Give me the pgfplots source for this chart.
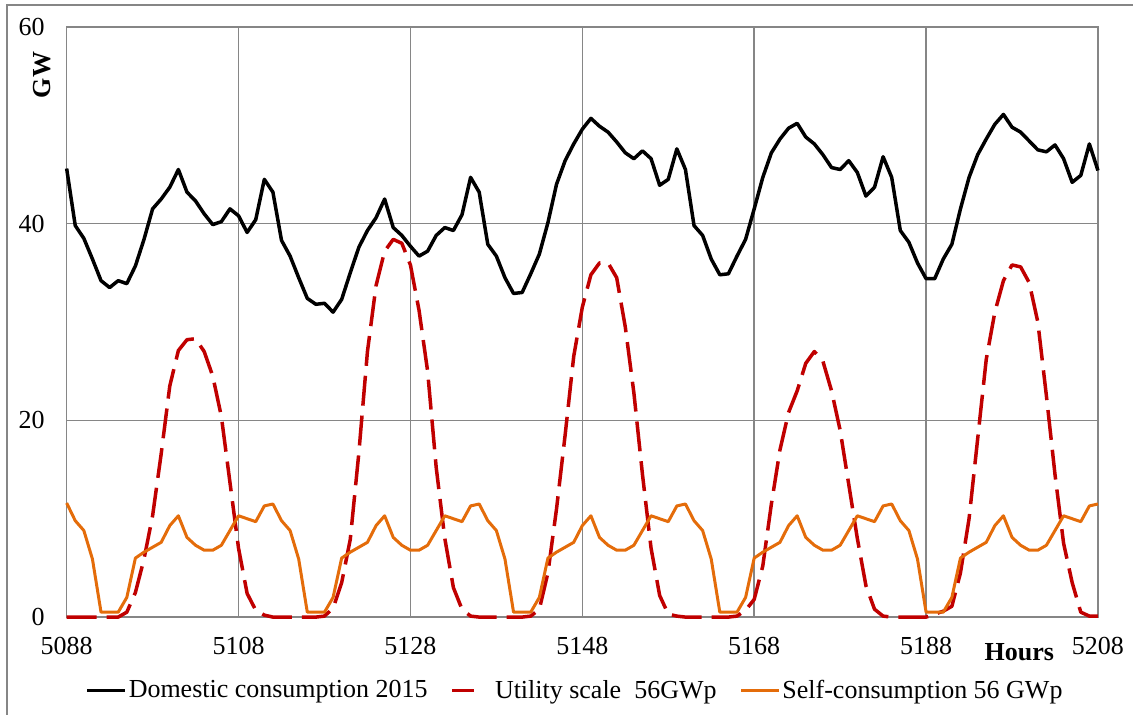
\documentclass[border=0pt]{standalone}
\usepackage{fontspec}
\setmainfont{Liberation Serif}
\usepackage{pgfplots}
\usepackage{pgfplotstable}
\pgfplotsset{compat=1.18}

\definecolor{gridgray}{RGB}{134,134,134}
\definecolor{utilred}{RGB}{192,0,0}
\definecolor{selforange}{RGB}{228,108,10}

\pgfplotsset{
    linelegend/.style={legend image code/.code={\draw[##1] (0pt,0pt) -- (19pt,0pt);}},
    dashlegend/.style={legend image code/.code={\draw[##1, solid] (4pt,0pt) -- (15pt,0pt);}},
}

% hourly values, GW
\pgfplotstableread{
h    dom  util self
5088 45.6 0    11.6
5089 39.8 0    9.8
5090 38.5 0    8.8
5091 36.4 0    5.9
5092 34.2 0    0.5
5093 33.5 0    0.5
5094 34.2 0    0.5
5095 33.9 0.5  2.0
5096 35.7 2.5  6.0
5097 38.4 5.9  6.6
5098 41.5 10.3 7.1
5099 42.5 16.6 7.6
5100 43.7 23.5 9.3
5101 45.5 27.1 10.3
5102 43.2 28.2 8.1
5103 42.3 28.3 7.3
5104 41.0 27.0 6.8
5105 39.9 24.5 6.8
5106 40.2 20.4 7.3
5107 41.5 13.7 8.8
5108 40.8 7.0  10.3
5109 39.1 2.4  10.0
5110 40.4 0.7  9.7
5111 44.5 0.2  11.3
5112 43.2 0    11.5
5113 38.3 0    9.8
5114 36.7 0    8.8
5115 34.5 0    5.9
5116 32.4 0    0.5
5117 31.8 0    0.5
5118 31.9 0.1  0.5
5119 31.0 0.9  2.0
5120 32.3 3.5  6.0
5121 35.0 7.9  6.6
5122 37.6 16.7 7.1
5123 39.3 27.0 7.6
5124 40.6 33.7 9.3
5125 42.5 37.2 10.3
5126 39.6 38.4 8.1
5127 38.8 38.0 7.3
5128 37.7 35.8 6.8
5129 36.7 31.2 6.8
5130 37.2 25.0 7.3
5131 38.8 15.2 8.8
5132 39.6 8.0  10.3
5133 39.3 3.0  10.0
5134 40.9 0.8  9.7
5135 44.7 0.1  11.3
5136 43.2 0    11.5
5137 37.9 0    9.8
5138 36.7 0    8.8
5139 34.5 0    5.9
5140 32.9 0    0.5
5141 33.0 0    0.5
5142 34.9 0.1  0.5
5143 36.9 0.8  2.0
5144 40.1 4.5  6.0
5145 44.0 11.0 6.6
5146 46.4 18.5 7.1
5147 48.1 26.5 7.6
5148 49.6 31.5 9.3
5149 50.7 34.8 10.3
5150 49.9 36.0 8.1
5151 49.3 36.0 7.3
5152 48.3 34.5 6.8
5153 47.2 29.5 6.8
5154 46.6 22.8 7.3
5155 47.4 14.5 8.8
5156 46.6 7.0  10.3
5157 43.9 2.2  10.0
5158 44.5 0.3  9.7
5159 47.6 0.1  11.3
5160 45.5 0    11.5
5161 39.8 0    9.8
5162 38.8 0    8.8
5163 36.4 0    5.9
5164 34.8 0    0.5
5165 34.9 0    0.5
5166 36.7 0.1  0.5
5167 38.4 0.7  2.0
5168 41.5 1.8  6.0
5169 44.7 5.2  6.6
5170 47.2 11.5 7.1
5171 48.6 17.0 7.6
5172 49.7 20.8 9.3
5173 50.2 23.0 10.3
5174 48.8 25.8 8.1
5175 48.1 27.0 7.3
5176 47.0 26.0 6.8
5177 45.7 23.0 6.8
5178 45.5 19.0 7.3
5179 46.4 13.5 8.8
5180 45.2 8.0  10.3
5181 42.8 3.2  10.0
5182 43.7 0.8  9.7
5183 46.8 0.1  11.3
5184 44.7 0    11.5
5185 39.3 0    9.8
5186 38.1 0    8.8
5187 36.0 0    5.9
5188 34.4 0    0.5
5189 34.4 0.3  0.5
5190 36.4 0.6  0.5
5191 37.9 1.1  2.0
5192 41.5 4.5  6.0
5193 44.7 10.0 6.6
5194 47.0 18.1 7.1
5195 48.6 26.2 7.6
5196 50.1 31.0 9.3
5197 51.1 34.2 10.3
5198 49.8 35.8 8.1
5199 49.3 35.6 7.3
5200 48.4 34.0 6.8
5201 47.5 30.0 6.8
5202 47.3 22.5 7.3
5203 48.0 14.5 8.8
5204 46.6 7.5  10.3
5205 44.2 3.5  10.0
5206 44.9 0.5  9.7
5207 48.1 0.1  11.3
5208 45.4 0.1  11.5
}\loadtable

\begin{document}
\begin{tikzpicture}
\begin{axis}[
    scale only axis,
    width=516pt, height=295.3pt,
    xmin=5088, xmax=5208, ymin=0, ymax=60,
    xtick={5088,5108,...,5208},
    ytick={0,20,40,60},
    grid=major,
    major grid style={gridgray, line width=0.75pt},
    axis line style={gridgray, line width=0.75pt},
    tick style={draw=none},
    font=\fontsize{13}{15.6}\selectfont,
    /pgf/number format/assume math mode=true,
    /pgf/number format/1000 sep={},
    xticklabel style={yshift=-6.4pt},
    yticklabel style={xshift=-7.5pt},
    xlabel={Hours},
    xlabel style={at={(axis description cs:0.9237,-0.0737)}, anchor=base,
        font=\fontsize{13}{15.6}\selectfont\bfseries},
    ylabel={GW},
    ylabel style={at={(axis description cs:-0.0242,0.9186)}, anchor=center,
        font=\fontsize{13}{15.6}\selectfont\bfseries},
    clip=false,
    legend columns=3,
    legend style={at={(axis description cs:0.0177,-0.1245)}, anchor=west,
        draw=none, fill=none, inner sep=0pt, column sep=0pt,
        nodes={inner sep=1pt},
        /tikz/every even column/.append style={column sep=10.5pt}},
    linelegend,
]
\addplot[black, line width=1.75pt, line join=round] table[x=h, y=dom] {\loadtable};
\addlegendentry{Domestic consumption 2015}
\addplot[utilred, line width=1.75pt, line join=round, dash pattern=on 15pt off 5pt, dashlegend]
    table[x=h, y=util] {\loadtable};
\addlegendentry{\hspace{8.5pt}Utility scale\ \ 56GWp}
\addplot[selforange, line width=1.5pt, line join=round] table[x=h, y=self] {\loadtable};
\addlegendentry{Self-consumption 56 GWp}
\end{axis}
% outer chart frame (left and top edges visible)
\draw[gridgray, line width=0.75pt] (-29.85pt,-48.75pt) -- (-29.85pt,306.25pt) -- (533.65pt,306.25pt);
\path[use as bounding box] (-33.35pt,-48.75pt) rectangle (533.65pt,308.75pt);
\end{tikzpicture}
\end{document}
